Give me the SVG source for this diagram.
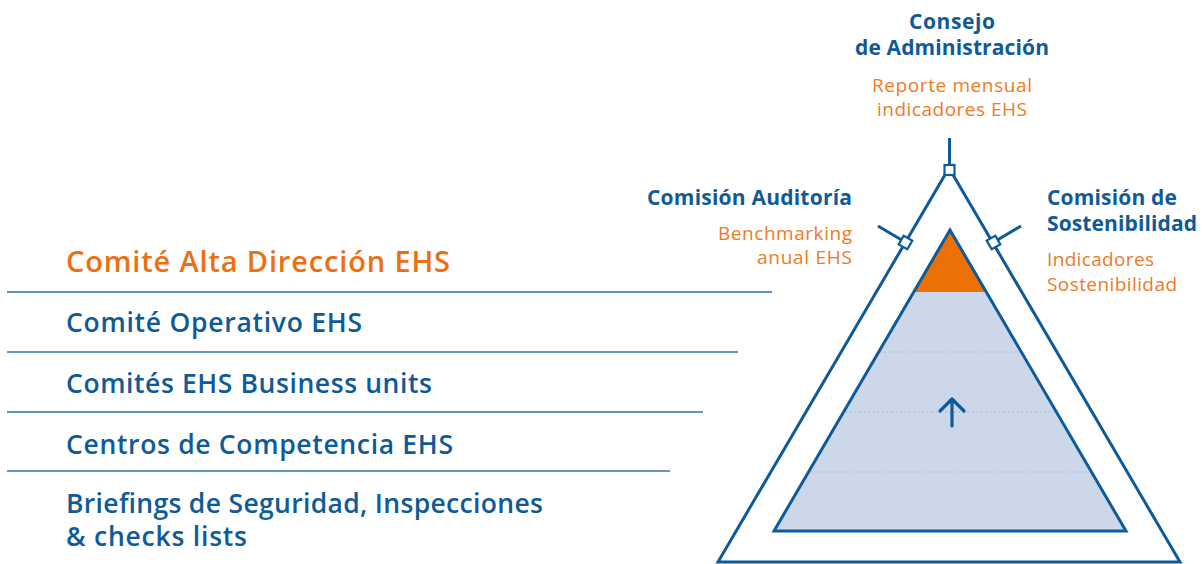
<svg xmlns="http://www.w3.org/2000/svg" width="1204" height="564" viewBox="0 0 1204 564">
<style>
.lvl{font-family:"Open Sans","Liberation Sans",sans-serif;font-weight:600;font-size:26.5px;fill:#0f5a98}
.lvlo{font-size:29px;fill:#ec7012}
.hd{font-family:"Open Sans","Liberation Sans",sans-serif;font-weight:700;font-size:21px;fill:#0f5a98}
.sub{font-family:"Open Sans","Liberation Sans",sans-serif;font-weight:400;font-size:19px;fill:#ee7a1e}
.rule{stroke:#2f72ad;stroke-width:1.5;fill:none}
.edge{stroke:#0f5a98;stroke-width:3;fill:none}
.dot{stroke:#9fb1d0;stroke-width:1.2;stroke-dasharray:1.5 3;fill:none}
</style>
<rect width="1204" height="564" fill="#ffffff"/>
<g id="levels">
<text class="lvl lvlo" x="66" y="272" textLength="384">Comité Alta Dirección EHS</text>
<line class="rule" x1="7" y1="292" x2="772" y2="292"/>
<text class="lvl" x="66" y="332" textLength="296">Comité Operativo EHS</text>
<line class="rule" x1="7" y1="352" x2="738" y2="352"/>
<text class="lvl" x="66" y="393" textLength="366">Comités EHS Business units</text>
<line class="rule" x1="7" y1="412" x2="703" y2="412"/>
<text class="lvl" x="66" y="454" textLength="387">Centros de Competencia EHS</text>
<line class="rule" x1="7" y1="471" x2="670" y2="471"/>
<text class="lvl" x="66" y="513" textLength="477">Briefings de Seguridad, Inspecciones</text>
<text class="lvl" x="66" y="546" textLength="181">&amp; checks lists</text>
</g>
<g id="pyramid">
<polygon points="950,230 774,531 1126,531" fill="#cdd7ea"/>
<polygon points="950,230 914,292 986,292" fill="#ec7003"/>
<line class="dot" x1="880" y1="352" x2="1020" y2="352"/>
<line class="dot" x1="846" y1="412" x2="1055" y2="412"/>
<line class="dot" x1="811" y1="472" x2="1090" y2="472"/>
<polygon class="edge" points="950,230 774,531 1126,531"/>
<path d="M952,426 V400 M940,411 L952,399 L964,411" stroke="#0f5a98" stroke-width="3.2" fill="none" stroke-linecap="round" stroke-linejoin="round"/>
</g>
<g id="outer">
<polygon class="edge" points="949,168 718,562 1180,562"/>
</g>
<g id="connectors">
<line class="edge" x1="949.5" y1="138" x2="949.5" y2="166" stroke-width="2.5"/>
<rect x="944.5" y="165" width="10" height="10" fill="#fff" stroke="#0f5a98" stroke-width="2.2"/>
<line class="edge" x1="878" y1="226" x2="905" y2="242" stroke-width="2.5"/>
<rect x="-5" y="-5" width="10" height="10" fill="#fff" stroke="#0f5a98" stroke-width="2.2" transform="translate(905.5,242.5) rotate(30)"/>
<line class="edge" x1="1021" y1="226" x2="994" y2="242" stroke-width="2.5"/>
<rect x="-5" y="-5" width="10" height="10" fill="#fff" stroke="#0f5a98" stroke-width="2.2" transform="translate(993.5,242.5) rotate(-30)"/>
</g>
<g id="consejo">
<text class="hd" x="909" y="29" textLength="86">Consejo</text>
<text class="hd" x="855" y="55" textLength="194">de Administración</text>
<text class="sub" x="872" y="92" textLength="160">Reporte mensual</text>
<text class="sub" x="877" y="116" textLength="150">indicadores EHS</text>
</g>
<g id="auditoria">
<text class="hd" x="647" y="205" textLength="205">Comisión Auditoría</text>
<text class="sub" x="718" y="240" textLength="134">Benchmarking</text>
<text class="sub" x="757" y="264" textLength="95">anual EHS</text>
</g>
<g id="sostenibilidad">
<text class="hd" x="1047" y="205" textLength="130">Comisión de</text>
<text class="hd" x="1047" y="231" textLength="150">Sostenibilidad</text>
<text class="sub" x="1047" y="266" textLength="107">Indicadores</text>
<text class="sub" x="1047" y="291" textLength="130">Sostenibilidad</text>
</g>
</svg>
